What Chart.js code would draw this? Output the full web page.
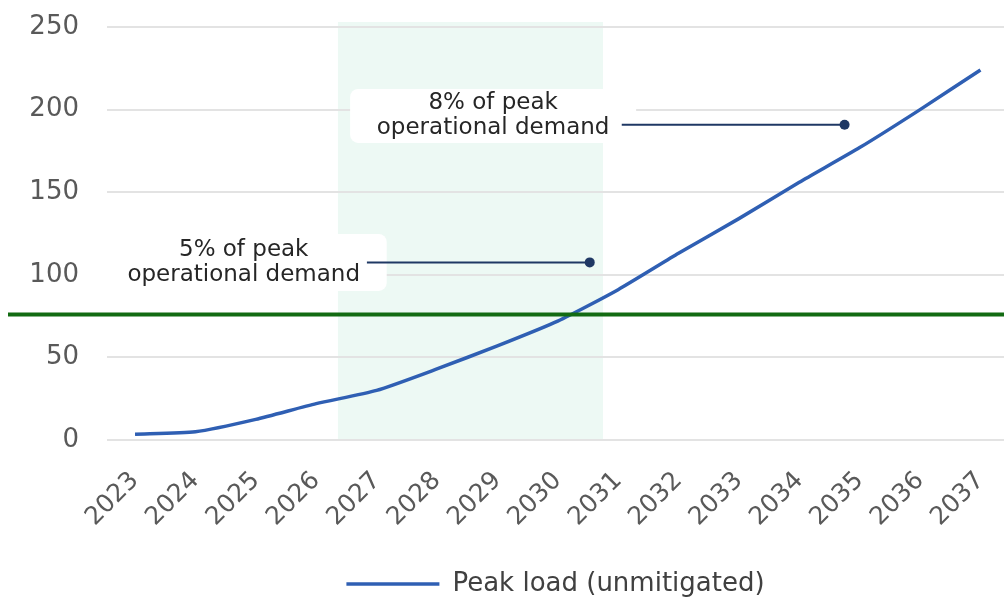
<!DOCTYPE html>
<html>
<head>
<meta charset="utf-8">
<script src="https://cdn.jsdelivr.net/npm/chart.js@4.4.1/dist/chart.umd.min.js"></script>
<style>
  html, body { margin: 0; padding: 0; background: #fff; }
  #chart { display: block; }
</style>
</head>
<body>
<canvas id="chart" width="1004" height="598"></canvas>
<script>
// data
const years = [2023, 2024, 2025, 2026, 2027, 2028, 2029, 2030, 2031, 2032, 2033, 2034, 2035, 2036, 2037];
const peakLoad = [3.5, 5, 12.5, 22, 30, 43, 57, 72, 91, 113, 134, 156, 177, 200, 224];
const thresholdValue = 76;
const shadedYears = [2026.36, 2030.75];
const shadedTop = 253;
const noteText = [["5% of peak", "operational demand"], ["8% of peak", "operational demand"]];
const noteCenter = [[2024.8, 107.5], [2028.93, 196.2]];
const noteLineFrom = [2026.84, 2031.06];
const noteDot = [[2030.53, 107.5], [2034.75, 190.8]];

const FONT = "'DejaVu Sans'";
const noteBoxSize = [[286, 57], [286, 54]];

// drop the extra room chart.js keeps for edge labels
function noEdgePadding(axis) {
  axis.paddingLeft = 0;
  axis.paddingRight = 0;
  axis.paddingTop = 0;
  axis.paddingBottom = 0;
}

const overlays = {
  id: "overlays",
  beforeDraw(chart) {
    const { ctx, scales: { x, y } } = chart;
    ctx.save();
    ctx.fillStyle = "#edf9f4";
    const x0 = x.getPixelForValue(shadedYears[0]);
    const x1 = x.getPixelForValue(shadedYears[1]);
    const yTop = y.getPixelForValue(shadedTop);
    ctx.fillRect(x0, yTop, x1 - x0, y.getPixelForValue(0) - yTop);
    ctx.restore();
  },
  afterDatasetsDraw(chart) {
    const { ctx, scales: { x, y } } = chart;
    ctx.save();

    // threshold line runs the full width
    const ty = y.getPixelForValue(thresholdValue);
    ctx.strokeStyle = "#126b12";
    ctx.lineWidth = 4;
    ctx.beginPath();
    ctx.moveTo(8, ty);
    ctx.lineTo(chart.width, ty);
    ctx.stroke();

    noteText.forEach((lines, i) => {
      const cx = x.getPixelForValue(noteCenter[i][0]);
      const cy = y.getPixelForValue(noteCenter[i][1]);
      const [w, h] = noteBoxSize[i];
      ctx.fillStyle = "#ffffff";
      ctx.beginPath();
      ctx.roundRect(cx - w / 2, cy - h / 2, w, h, 8);
      ctx.fill();

      const dx = x.getPixelForValue(noteDot[i][0]);
      const dy = y.getPixelForValue(noteDot[i][1]);
      ctx.strokeStyle = "#1f3864";
      ctx.lineWidth = 2;
      ctx.beginPath();
      ctx.moveTo(x.getPixelForValue(noteLineFrom[i]), dy);
      ctx.lineTo(dx, dy);
      ctx.stroke();
      ctx.fillStyle = "#1f3864";
      ctx.beginPath();
      ctx.arc(dx, dy, 5, 0, Math.PI * 2);
      ctx.fill();

      ctx.fillStyle = "#262626";
      ctx.font = `23px ${FONT}`;
      ctx.textAlign = "center";
      ctx.textBaseline = "middle";
      ctx.fillText(lines[0], cx, cy - 12.5);
      ctx.fillText(lines[1], cx, cy + 12.5);
    });
    ctx.restore();
  }
};

new Chart(document.getElementById("chart").getContext("2d"), {
  type: "line",
  data: {
    datasets: [
      {
        label: "Peak load (unmitigated)",
        data: years.map((yr, i) => ({ x: yr, y: peakLoad[i] })),
        borderColor: "#2f5fb3",
        backgroundColor: "#2f5fb3",
        borderWidth: 3.5,
        pointRadius: 0,
        tension: 0.2,
      },
    ],
  },
  options: {
    responsive: false,
    animation: false,
    devicePixelRatio: 1,
    layout: { padding: { top: 27, right: 0, bottom: -9, left: 0 } },
    plugins: {
      tooltip: { enabled: false },
      legend: {
        position: "bottom",
        fullSize: false,
        labels: {
          usePointStyle: true,
          pointStyle: "line",
          pointStyleWidth: 93,
          color: "#404040",
          font: { family: FONT, size: 26 },
          padding: 0,
        },
      },
    },
    scales: {
      x: {
        type: "linear",
        min: 2022.536,
        max: 2037.39,
        afterBuildTicks: (axis) => {
          axis.ticks = years.map((v) => ({ value: v }));
        },
        afterFit: (axis) => {
          noEdgePadding(axis);
          axis.height = 131;
        },
        grid: { display: false },
        border: { display: false },
        ticks: {
          autoSkip: false,
          minRotation: 45,
          maxRotation: 45,
          color: "#595959",
          font: { family: FONT, size: 25 },
          padding: 18,
          callback: (v) => String(v),
        },
      },
      y: {
        min: 0,
        max: 250,
        afterFit: (axis) => {
          noEdgePadding(axis);
          axis.width = 107;
        },
        grid: { color: "#e3e3e3", lineWidth: 2, drawTicks: false },
        border: { display: false },
        ticks: {
          stepSize: 50,
          color: "#595959",
          font: { family: FONT, size: 26 },
          padding: 28,
        },
      },
    },
  },
  plugins: [overlays],
});
</script>
</body>
</html>
